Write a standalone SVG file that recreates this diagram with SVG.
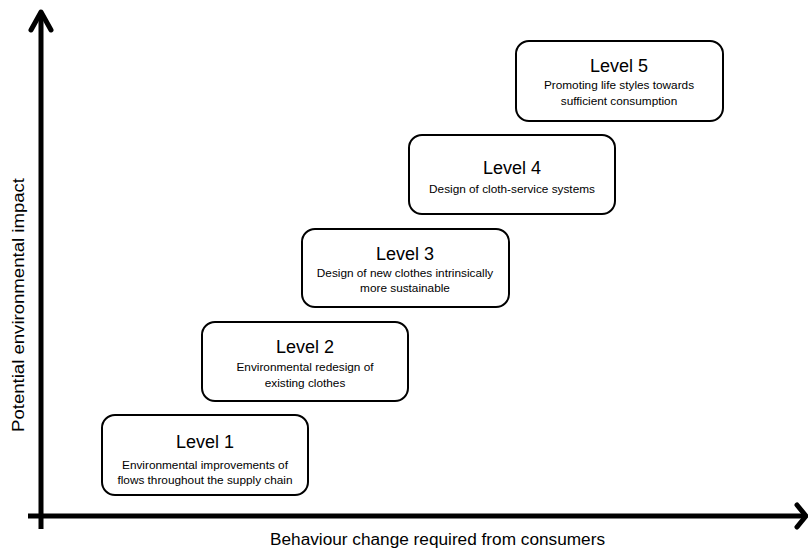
<svg xmlns="http://www.w3.org/2000/svg" width="808" height="550" viewBox="0 0 808 550">
<style>
.box{fill:#fff;stroke:#000;stroke-width:2}
.axis{fill:none;stroke:#000;stroke-width:5;stroke-linecap:round;stroke-linejoin:round}
.title{font-family:"Liberation Sans",Arial,sans-serif;font-size:18px;fill:#000;text-anchor:middle}
.sub{font-family:"Liberation Sans",Arial,sans-serif;font-size:11.8px;fill:#000;text-anchor:middle}
.lab{font-family:"Liberation Sans",Arial,sans-serif;font-size:16px;fill:#000;text-anchor:middle}
</style>
<rect width="808" height="550" fill="#fff"/>
<g id="axes">
<line class="axis" x1="41" y1="13" x2="41" y2="529" style="stroke-linecap:butt"/>
<line class="axis" x1="28" y1="516" x2="805" y2="516" style="stroke-linecap:butt"/>
<polyline class="axis" points="31,30 41,12 51,30"/>
<polyline class="axis" points="797,505 806,516 797,527"/>
<text class="lab" x="437.5" y="545" textLength="335" lengthAdjust="spacingAndGlyphs">Behaviour change required from consumers</text>
<text class="lab" transform="translate(24,305) rotate(-90)" textLength="254" lengthAdjust="spacingAndGlyphs">Potential environmental impact</text>
</g>
<g id="level1">
<rect class="box" x="102" y="415" width="206" height="80" rx="13"/>
<text class="title" x="205" y="448">Level 1</text>
<text class="sub" x="205" y="469">Environmental improvements of</text>
<text class="sub" x="205" y="484">flows throughout the supply chain</text>
</g>
<g id="level2">
<rect class="box" x="202" y="322" width="206" height="79" rx="13"/>
<text class="title" x="305" y="353">Level 2</text>
<text class="sub" x="305" y="371">Environmental redesign  of</text>
<text class="sub" x="305" y="387">existing clothes</text>
</g>
<g id="level3">
<rect class="box" x="302" y="229" width="207" height="78" rx="13"/>
<text class="title" x="405" y="260">Level 3</text>
<text class="sub" x="405" y="277">Design of new clothes intrinsically</text>
<text class="sub" x="405" y="292">more sustainable</text>
</g>
<g id="level4">
<rect class="box" x="409" y="135" width="206" height="79" rx="13"/>
<text class="title" x="512" y="174">Level 4</text>
<text class="sub" x="512" y="193">Design of cloth-service systems</text>
</g>
<g id="level5">
<rect class="box" x="516" y="41" width="207" height="80" rx="13"/>
<text class="title" x="619" y="72">Level 5</text>
<text class="sub" x="619" y="89">Promoting life styles towards</text>
<text class="sub" x="619" y="105">sufficient consumption</text>
</g>
</svg>
